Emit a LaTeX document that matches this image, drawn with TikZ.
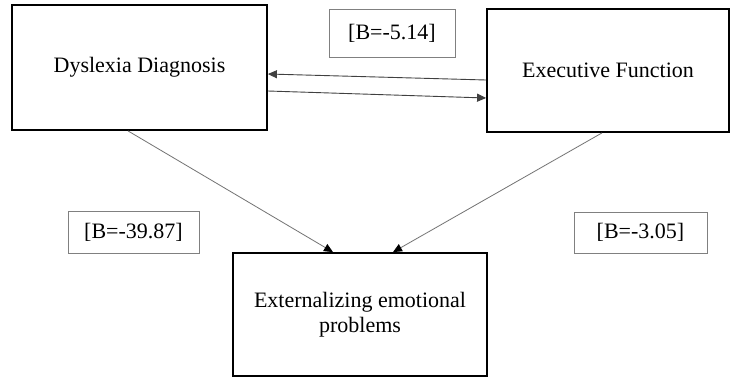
\documentclass[tikz,border=0pt]{standalone}
\usepackage{fontspec}
\setmainfont{Liberation Serif}
\usetikzlibrary{arrows.meta}
\begin{document}
\begin{tikzpicture}[x=1pt,y=-1pt,
  mainbox/.style={draw=black,line width=1.8pt,inner sep=0pt,align=center,
    font=\fontsize{22}{25}\selectfont},
  labbox/.style={draw=black!50,line width=0.9pt,inner sep=0pt,
    font=\fontsize{22}{25}\selectfont},
  conn/.style={draw=black!75,line width=0.9pt,-{Triangle[length=9pt,width=8pt]}},
  diag/.style={draw=black!55,line width=0.8pt,-{Triangle[length=9pt,width=8pt,fill=black,color=black]}}]
\useasboundingbox[fill=white] (0,0) rectangle (731,378);
\node[mainbox,minimum width=255pt,minimum height=125pt] (dys) at (139.5,67.5) {Dyslexia Diagnosis};
\node[mainbox,minimum width=242pt,minimum height=123pt] (exe) at (608,70.5) {Executive Function};
\node[mainbox,minimum width=254pt,minimum height=123pt] (ext) at (360,314.5) {Externalizing emotional\\problems};
\node[labbox,minimum width=126pt,minimum height=48pt] (b1) at (392,33) {[B=-5.14]};
\node[labbox,minimum width=131pt,minimum height=42pt] (b2) at (133.5,232) {[B=-39.87]};
\node[labbox,minimum width=133pt,minimum height=41pt] (b3) at (640.5,232.5) {[B=-3.05]};
\draw[conn] ([yshift=-9.5pt]exe.west) -- ([yshift=-6.5pt]dys.east);
\draw[conn] ([yshift=-23.5pt]dys.east) -- ([yshift=-27.5pt]exe.west);
\draw[diag] ([xshift=-11.5pt]dys.south) -- ([xshift=-27pt]ext.north);
\draw[diag] ([xshift=-6pt]exe.south) -- ([xshift=33pt]ext.north);
\end{tikzpicture}
\end{document}
